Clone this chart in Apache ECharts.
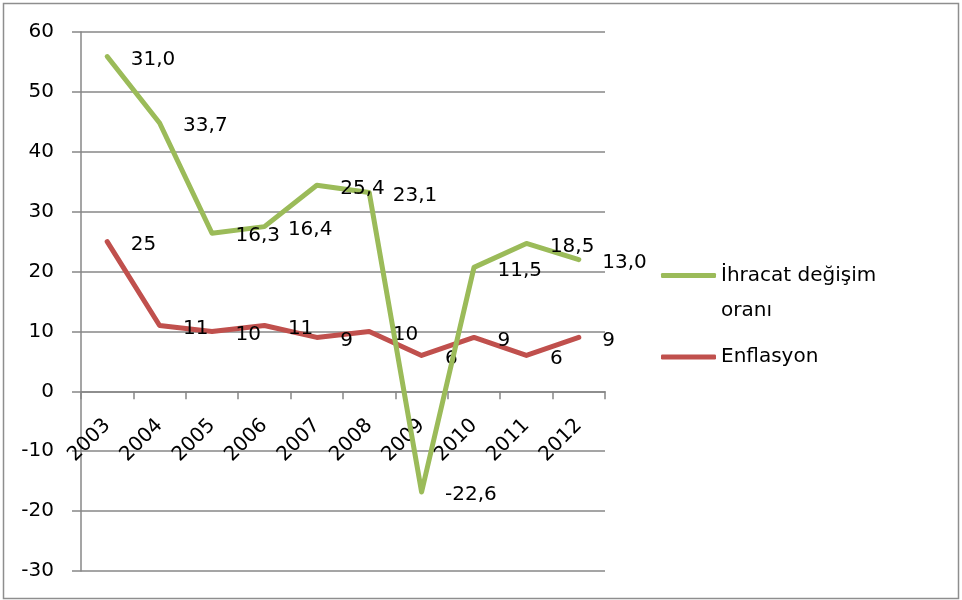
<!DOCTYPE html>
<html>
<head>
<meta charset="utf-8">
<script src="https://cdn.jsdelivr.net/npm/echarts@6/dist/echarts.min.js"></script>
<style>
html,body{margin:0;padding:0;background:#fff;}
#chart{width:962px;height:600px;}
</style>
</head>
<body>
<div id="chart"></div>
<script>
var years = ['2003','2004','2005','2006','2007','2008','2009','2010','2011','2012'];
var ihracatValues = [55.9, 44.8, 26.4, 27.5, 34.4, 33.2, -16.8, 20.7, 24.7, 22.0];
var ihracatLabels = ['31,0','33,7','16,3','16,4','25,4','23,1','-22,6','11,5','18,5','13,0'];
var enflasyonValues = [25, 11, 10, 11, 9, 10, 6, 9, 6, 9];
var enflasyonLabels = ['25','11','10','11','9','10','6','9','6','9'];
var seriesNames = ['İhracat değişim oranı', 'Enflasyon'];
var yTicks = {min: -30, max: 60, interval: 10};

var FONT = 'DejaVu Sans';
var GRID = '#878787';
var GRID_TOP = 32, GRID_BOTTOM = 29, H = 600;
// shift the category axis up to the y = 0 line
var plotH = H - GRID_TOP - GRID_BOTTOM;
var zeroOffset = -plotH * (0 - yTicks.min) / (yTicks.max - yTicks.min);

var chart = echarts.init(document.getElementById('chart'), null, {renderer: 'canvas'});

function labelCfg(labels) {
  return {
    show: true,
    position: 'right',
    distance: 23,
    offset: [0, 3],
    color: '#000',
    fontFamily: FONT,
    fontSize: 20,
    formatter: function (p) { return labels[p.dataIndex]; }
  };
}

chart.setOption({
  animation: false,
  backgroundColor: '#fff',
  graphic: [{
    type: 'rect',
    shape: {x: 3.5, y: 3.5, width: 955, height: 595},
    style: {fill: 'none', stroke: '#8e8e8e', lineWidth: 1.5},
    silent: true
  }],
  grid: {left: 81, top: GRID_TOP, right: 357, bottom: GRID_BOTTOM, containLabel: false, outerBoundsMode: 'none'},
  legend: [{
    data: [seriesNames[0]],
    orient: 'vertical',
    left: 661,
    top: 223,
    padding: 0,
    icon: 'roundRect',
    itemWidth: 55,
    itemHeight: 5,
    itemGap: 0,
    formatter: function (n) { return '\n' + n.replace('değişim ', 'değişim\n'); },
    textStyle: {fontFamily: FONT, fontSize: 20, color: '#000', lineHeight: 35}
  }, {
    data: [seriesNames[1]],
    orient: 'vertical',
    left: 661,
    top: 339.5,
    padding: 0,
    icon: 'roundRect',
    itemWidth: 55,
    itemHeight: 5,
    textStyle: {fontFamily: FONT, fontSize: 20, color: '#000', lineHeight: 35}
  }],
  xAxis: {
    type: 'category',
    data: years,
    boundaryGap: true,
    offset: zeroOffset,
    axisLine: {show: true, onZero: false, lineStyle: {color: GRID, width: 1.5}},
    axisTick: {show: true, length: 8, lineStyle: {color: GRID, width: 1.5}},
    axisLabel: {rotate: 45, interval: 0, margin: 31, color: '#000', fontFamily: FONT, fontSize: 20},
    splitLine: {show: false}
  },
  yAxis: {
    type: 'value',
    min: yTicks.min,
    max: yTicks.max,
    interval: yTicks.interval,
    axisLine: {show: true, lineStyle: {color: GRID, width: 1.5}},
    axisTick: {show: true, length: 9, lineStyle: {color: GRID, width: 1.5}},
    axisLabel: {margin: 27, color: '#000', fontFamily: FONT, fontSize: 20},
    splitLine: {show: true, lineStyle: {color: GRID, width: 1.5}}
  },
  series: [{
    name: seriesNames[0],
    type: 'line',
    data: ihracatValues,
    color: '#9BBB59',
    symbol: 'circle',
    symbolSize: 1,
    lineStyle: {width: 5, color: '#9BBB59', cap: 'round', join: 'round'},
    label: labelCfg(ihracatLabels),
    z: 3
  }, {
    name: seriesNames[1],
    type: 'line',
    data: enflasyonValues,
    color: '#C0504D',
    symbol: 'circle',
    symbolSize: 1,
    lineStyle: {width: 5, color: '#C0504D', cap: 'round', join: 'round'},
    label: labelCfg(enflasyonLabels),
    z: 2
  }]
});
</script>
</body>
</html>
